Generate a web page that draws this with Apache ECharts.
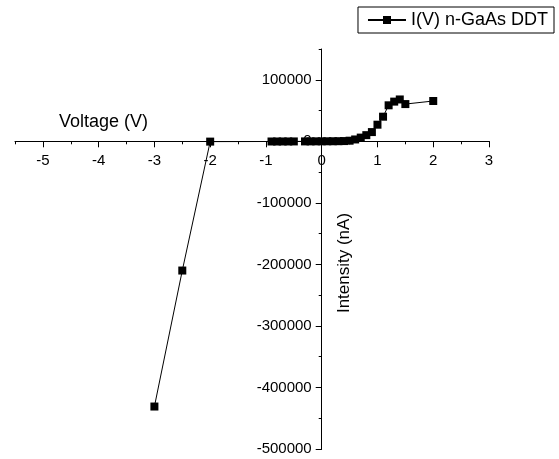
<!DOCTYPE html>
<html>
<head>
<meta charset="utf-8">
<script src="https://cdn.jsdelivr.net/npm/echarts@6/dist/echarts.min.js"></script>
<style>
  html, body { margin: 0; padding: 0; background: #fff; }
  #main { width: 559px; height: 459px; }
</style>
</head>
<body>
<div id="main"></div>
<script>
// I(V) n-GaAs DDT
var voltage = [-3, -2.5, -2, -0.9, -0.8, -0.7, -0.6, -0.5, -0.3, -0.2, -0.1, 0,
               0.1, 0.2, 0.3, 0.4, 0.5, 0.6, 0.7, 0.8, 0.9, 1.0, 1.1, 1.2, 1.3, 1.4, 1.5, 2.0];
var intensity = [-431000, -210000, -500, -300, -300, -250, -250, -200, -150, -100, -50, 0,
                 50, 100, 200, 400, 1000, 3000, 6000, 10000, 15000, 27000, 40000, 58500, 64500, 68000, 60500, 65500];
var xTicks = [-5, -4, -3, -2, -1, 0, 1, 2, 3];
var yTicks = [-500000, -400000, -300000, -200000, -100000, 0, 100000];

var font = 'Arial, "Liberation Sans", sans-serif';
var pts = [];
for (var i = 0; i < voltage.length; i++) {
  pts.push([voltage[i], intensity[i]]);
}

// axes cross at (0, 0): move them there with offset
var W = 559, H = 459;
var gl = 15, gr = 70, gt = 49, gb = 10;
var xMin = -5.5, xMax = 3, yMin = -500000, yMax = 150000;
var xOff = -(H - gt - gb) * (0 - yMin) / (yMax - yMin);
var yOff = -(W - gl - gr) * (0 - xMin) / (xMax - xMin);

var myChart = echarts.init(document.getElementById('main'));
var option = {
  animation: false,
  backgroundColor: '#fff',
  textStyle: { fontFamily: font, color: '#000' },
  legend: {
    right: 5, top: 7,
    padding: [4, 6, 4, 9],
    borderColor: '#000', borderWidth: 1,
    itemWidth: 38, itemHeight: 10,
    textStyle: { fontSize: 18, color: '#000', fontFamily: font },
    data: ['I(V) n-GaAs DDT']
  },
  grid: { left: gl, right: gr, top: gt, bottom: gb, containLabel: false, outerBoundsMode: 'none' },
  xAxis: [{
    type: 'value', min: xMin, max: xMax, interval: 0.5,
    position: 'bottom', offset: xOff,
    name: 'Voltage (V)', nameLocation: 'start', nameGap: -133, nameMoveOverlap: false,
    nameTextStyle: { fontSize: 18, color: '#000', fontFamily: font, verticalAlign: 'bottom', padding: [0, 0, 10, 0] },
    axisLine: { onZero: false, lineStyle: { color: '#000', width: 1 } },
    axisTick: { customValues: xTicks, length: 6, lineStyle: { color: '#000' } },
    axisLabel: { customValues: xTicks, fontSize: 15, color: '#000', margin: 12, fontFamily: font },
    splitLine: { show: false }
  }, {
    // short ticks every 0.5
    type: 'value', min: xMin, max: xMax, interval: 0.5,
    position: 'bottom', offset: xOff,
    axisLine: { show: false, onZero: false },
    axisTick: { length: 3, lineStyle: { color: '#000' } },
    axisLabel: { show: false },
    splitLine: { show: false }
  }],
  yAxis: [{
    type: 'value', min: yMin, max: yMax, interval: 50000,
    position: 'left', offset: yOff,
    name: 'Intensity (nA)', nameLocation: 'middle', nameRotate: 90, nameGap: -31, nameMoveOverlap: false,
    nameTextStyle: { fontSize: 17, color: '#000', fontFamily: font, padding: [0, 28, 0, 0] },
    axisLine: { onZero: false, lineStyle: { color: '#000', width: 1 } },
    axisTick: { customValues: yTicks, length: 6, lineStyle: { color: '#000' } },
    axisLabel: {
      customValues: yTicks, fontSize: 15, color: '#000', margin: 10, fontFamily: font,
      formatter: function (v) { return String(v); }
    },
    splitLine: { show: false }
  }, {
    // short ticks every 50000
    type: 'value', min: yMin, max: yMax, interval: 50000,
    position: 'left', offset: yOff,
    axisLine: { show: false, onZero: false },
    axisTick: { length: 3, lineStyle: { color: '#000' } },
    axisLabel: { show: false },
    splitLine: { show: false }
  }],
  series: [{
    name: 'I(V) n-GaAs DDT',
    type: 'line',
    xAxisIndex: 0, yAxisIndex: 0,
    data: pts,
    symbol: 'rect', symbolSize: 8,
    itemStyle: { color: '#000' },
    lineStyle: { color: '#000', width: 1 }
  }]
};
myChart.setOption(option);
</script>
</body>
</html>
